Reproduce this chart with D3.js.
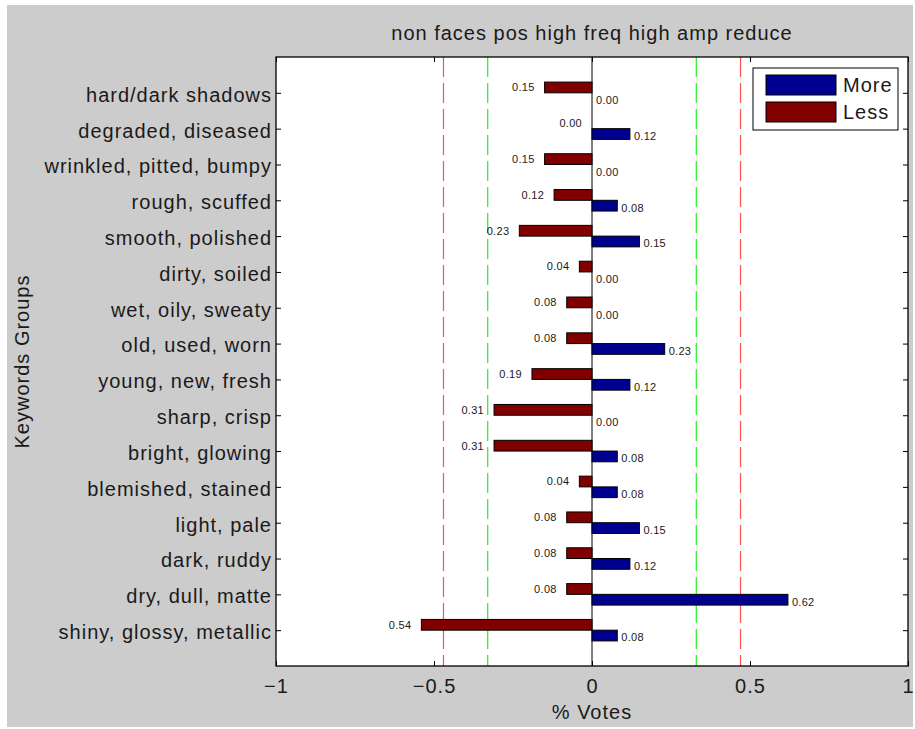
<!DOCTYPE html>
<html>
<head>
<meta charset="utf-8">
<script src="https://cdn.jsdelivr.net/npm/d3@7"></script>
<style>
  body { margin: 0; background: #fff; }
  svg text { font-family: "Liberation Sans", Arial, sans-serif; fill: #1a1a1a; letter-spacing: 1px; }
  svg text.val { letter-spacing: 0.3px; }
</style>
</head>
<body>
<div id="chart"></div>
<script>
// keyword groups, top to bottom
var categories = [
  "hard/dark shadows", "degraded, diseased", "wrinkled, pitted, bumpy",
  "rough, scuffed", "smooth, polished", "dirty, soiled", "wet, oily, sweaty",
  "old, used, worn", "young, new, fresh", "sharp, crisp", "bright, glowing",
  "blemished, stained", "light, pale", "dark, ruddy", "dry, dull, matte",
  "shiny, glossy, metallic"
];
var moreVotes = [0.00, 0.12, 0.00, 0.08, 0.15, 0.00, 0.00, 0.23, 0.12, 0.00, 0.08, 0.08, 0.15, 0.12, 0.62, 0.08];
var lessVotes = [0.15, 0.00, 0.15, 0.12, 0.23, 0.04, 0.08, 0.08, 0.19, 0.31, 0.31, 0.04, 0.08, 0.08, 0.08, 0.54];
var xTicks = [-1, -0.5, 0, 0.5, 1];
var redLines = [-0.47, 0.47];
var greenLines = [-0.33, 0.33];
var seriesNames = ["More", "Less"];
var seriesColors = ["#000090", "#800000"];

var W = 915, H = 729;
var plot = {left: 276, right: 908, top: 57, bottom: 666};

var svg = d3.select("#chart").append("svg")
  .attr("width", W).attr("height", H);

// figure background
svg.append("rect")
  .attr("x", 7).attr("y", 5).attr("width", 906).attr("height", 722)
  .attr("fill", "#cccccc");

var x = d3.scaleLinear().domain([-1, 1]).range([plot.left, plot.right]);
// categories sit at 1..16, axis runs 0..17
var y = d3.scaleLinear().domain([0, categories.length + 1]).range([plot.top, plot.bottom]);
var bandH = y(0.3) - y(0);

svg.append("rect")
  .attr("x", plot.left).attr("y", plot.top)
  .attr("width", plot.right - plot.left).attr("height", plot.bottom - plot.top)
  .attr("fill", "#fff");

// dashed threshold lines
function vline(v, color) {
  svg.append("line")
    .attr("x1", x(v)).attr("x2", x(v))
    .attr("y1", plot.top).attr("y2", plot.bottom)
    .attr("stroke", color).attr("stroke-width", 1.2)
    .attr("stroke-dasharray", "20,6");
}
redLines.forEach(function(v) { vline(v, "#ff5050"); });
greenLines.forEach(function(v) { vline(v, "#20f020"); });

// zero line
svg.append("line")
  .attr("x1", x(0)).attr("x2", x(0))
  .attr("y1", plot.top).attr("y2", plot.bottom)
  .attr("stroke", "#000").attr("stroke-width", 1);

var rows = categories.map(function(c, i) {
  return {cat: c, pos: i + 1, more: moreVotes[i], less: lessVotes[i]};
});

// less bars (above the tick)
svg.append("g").selectAll("rect")
  .data(rows).enter().append("rect")
  .attr("x", function(d) { return x(-d.less); })
  .attr("y", function(d) { return y(d.pos - 0.3); })
  .attr("width", function(d) { return x(0) - x(-d.less); })
  .attr("height", bandH)
  .attr("fill", seriesColors[1])
  .attr("stroke", "#000").attr("stroke-width", 1);

// more bars (below the tick)
svg.append("g").selectAll("rect")
  .data(rows).enter().append("rect")
  .attr("x", x(0))
  .attr("y", function(d) { return y(d.pos); })
  .attr("width", function(d) { return x(d.more) - x(0); })
  .attr("height", bandH)
  .attr("fill", seriesColors[0])
  .attr("stroke", "#000").attr("stroke-width", 1);

// value labels
svg.append("g").selectAll("text")
  .data(rows).enter().append("text")
  .attr("class", "val")
  .attr("x", function(d) { return x(-d.less) - 10; })
  .attr("y", function(d) { return y(d.pos - 0.15); })
  .attr("dy", "0.35em")
  .attr("text-anchor", "end")
  .style("font-size", "11px")
  .text(function(d) { return d.less.toFixed(2); });

svg.append("g").selectAll("text")
  .data(rows).enter().append("text")
  .attr("class", "val")
  .attr("x", function(d) { return x(d.more) + 4; })
  .attr("y", function(d) { return y(d.pos + 0.15) + 2; })
  .attr("dy", "0.35em")
  .style("font-size", "11px")
  .text(function(d) { return d.more.toFixed(2); });

// axes box
svg.append("rect")
  .attr("x", plot.left).attr("y", plot.top)
  .attr("width", plot.right - plot.left).attr("height", plot.bottom - plot.top)
  .attr("fill", "none").attr("stroke", "#000").attr("stroke-width", 1.3);

var tickFmt = function(d) { return d === 0 ? "0" : String(d).replace("-", "\u2212"); };

var xAxis = svg.append("g")
  .attr("transform", "translate(0," + plot.bottom + ")")
  .call(d3.axisBottom(x).tickValues(xTicks).tickSizeInner(-5).tickSizeOuter(0)
    .tickPadding(13).tickFormat(tickFmt));
xAxis.select(".domain").remove();
xAxis.selectAll("text").style("font-size", "20px").attr("fill", "#1a1a1a");

var xAxisTop = svg.append("g")
  .attr("transform", "translate(0," + plot.top + ")")
  .call(d3.axisTop(x).tickValues(xTicks).tickSizeInner(-5).tickSizeOuter(0).tickFormat(""));
xAxisTop.select(".domain").remove();

var yPos = rows.map(function(d) { return d.pos; });
var yAxis = svg.append("g")
  .attr("transform", "translate(" + plot.left + ",0)")
  .call(d3.axisLeft(y).tickValues(yPos).tickSizeInner(-5).tickSizeOuter(0)
    .tickPadding(4).tickFormat(function(d) { return categories[d - 1]; }));
yAxis.select(".domain").remove();
yAxis.selectAll("text").style("font-size", "20px").attr("dy", "0.42em").attr("fill", "#1a1a1a");

var yAxisRight = svg.append("g")
  .attr("transform", "translate(" + plot.right + ",0)")
  .call(d3.axisRight(y).tickValues(yPos).tickSizeInner(-5).tickSizeOuter(0).tickFormat(""));
yAxisRight.select(".domain").remove();

// titles
svg.append("text")
  .attr("x", x(0)).attr("y", 40)
  .attr("text-anchor", "middle")
  .style("font-size", "20px")
  .text("non faces pos high freq high amp reduce");

svg.append("text")
  .attr("x", x(0)).attr("y", 719)
  .attr("text-anchor", "middle")
  .style("font-size", "20px")
  .text("% Votes");

svg.append("text")
  .attr("transform", "translate(29," + ((plot.top + plot.bottom) / 2) + ") rotate(-90)")
  .attr("text-anchor", "middle")
  .style("font-size", "20px")
  .text("Keywords Groups");

// legend
var legend = svg.append("g").attr("transform", "translate(753,68)");
legend.append("rect")
  .attr("width", 145).attr("height", 62)
  .attr("fill", "#fff").attr("stroke", "#000").attr("stroke-width", 1);
var items = legend.selectAll("g.item")
  .data(seriesNames).enter().append("g")
  .attr("class", "item")
  .attr("transform", function(d, i) { return "translate(13," + (7 + i * 27) + ")"; });
items.append("rect")
  .attr("width", 70).attr("height", 20)
  .attr("fill", function(d, i) { return seriesColors[i]; })
  .attr("stroke", "#000").attr("stroke-width", 1);
items.append("text")
  .attr("x", 77).attr("y", 10).attr("dy", "0.36em")
  .style("font-size", "20px")
  .text(function(d) { return d; });
</script>
</body>
</html>
